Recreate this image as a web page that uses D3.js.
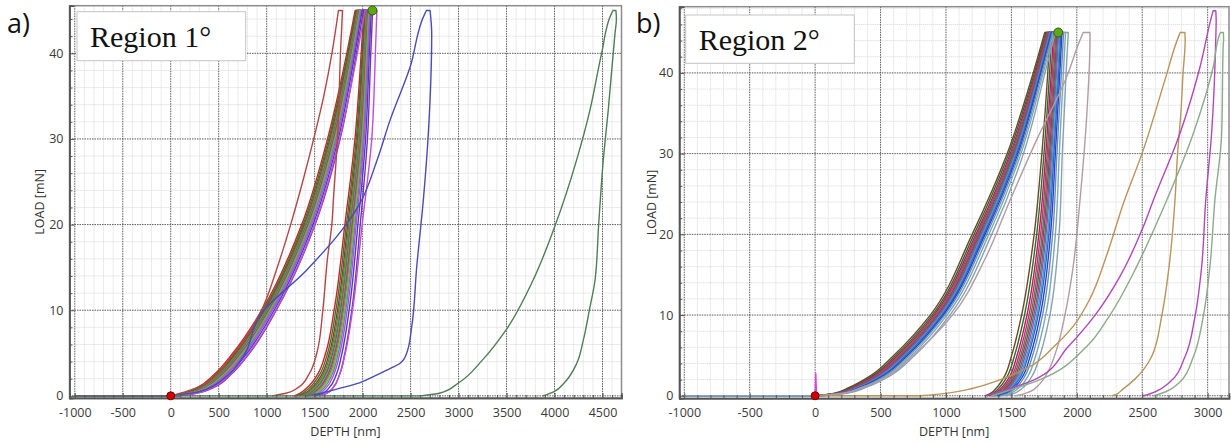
<!DOCTYPE html>
<html><head><meta charset="utf-8">
<script src="https://cdn.jsdelivr.net/npm/d3@7"></script>
<style>body{margin:0;background:#fff}svg{display:block}</style>
</head><body><svg id="c" width="1231" height="444"></svg>
<script>
// ---------- DATA ----------
const loadLevels = [0, 0.3, 1, 2.5, 5, 10, 20, 30, 40, 45];      // mN, loading branch
const unloadLevels = [45, 40, 30, 20, 10, 5, 2.5, 1, 0.3, 0];    // mN, unloading branch
const xTicksA = [-1000, -500, 0, 500, 1000, 1500, 2000, 2500, 3000, 3500, 4000, 4500];
const xTicksB = [-1000, -500, 0, 500, 1000, 1500, 2000, 2500, 3000];
const yTicks = [0, 10, 20, 30, 40];

// Panel a) main bundle: depth (nm) at each load level
const bundleA_load = [
  [0,130,280,452,648,950,1365,1634,1835,1922],
  [8,144,297,470,665,965,1379,1647,1845,1931],
  [15,157,312,485,681,978,1392,1659,1854,1938],
  [21,166,324,498,693,989,1401,1668,1861,1944],
  [26,175,334,508,704,998,1410,1676,1867,1950],
  [30,183,344,518,713,1006,1417,1684,1872,1954],
  [34,190,353,528,723,1014,1425,1691,1878,1959],
  [38,197,362,536,732,1022,1432,1697,1883,1963],
  [43,205,371,546,741,1030,1440,1705,1888,1968],
  [47,213,380,556,751,1039,1448,1712,1894,1973],
  [53,222,392,568,763,1049,1457,1721,1901,1979],
  [59,234,406,582,777,1061,1469,1732,1909,1986],
  [68,249,425,602,796,1078,1484,1746,1920,1995],
  [80,270,450,628,822,1100,1505,1766,1935,2008],
  [75,262,440,620,815,1095,1500,1760,1945,2025]
];
const bundleA_unload = [
  [2012,1985,1920,1815,1703,1615,1530,1425,1345,1290],
  [2021,1995,1933,1831,1721,1635,1553,1452,1373,1316],
  [2029,2004,1945,1845,1738,1653,1574,1476,1398,1339],
  [2036,2011,1954,1857,1751,1667,1590,1495,1418,1358],
  [2041,2017,1962,1866,1762,1679,1604,1511,1435,1373],
  [2047,2023,1969,1875,1772,1690,1616,1526,1450,1388],
  [2052,2028,1976,1884,1782,1701,1629,1541,1465,1402],
  [2056,2033,1982,1892,1791,1711,1640,1555,1479,1415],
  [2061,2039,1990,1901,1801,1722,1653,1569,1495,1429],
  [2066,2044,1997,1909,1812,1733,1666,1584,1510,1443],
  [2073,2051,2006,1921,1824,1747,1682,1603,1530,1462],
  [2080,2059,2016,1933,1839,1763,1700,1625,1552,1482],
  [2090,2070,2031,1951,1859,1785,1726,1655,1583,1511],
  [2104,2085,2050,1975,1887,1815,1760,1695,1625,1550],
  [2148,2133,2095,1995,1895,1820,1760,1695,1625,1555]
];
const bundleA_colors = ['#d62020','#2e7d32','#a03030','#3a8a3a','#9a8a20','#2a7a6a','#8a8a8a','#c03070',
  '#4a9a4a','#b0a030','#30a0b0','#d040d0','#4040d0','#7a30b0','#c050d0'];

// Panel a) outliers: [depth nm, load mN]
const redA_load = [[0,0],[280,1],[660,5],[945,10],[1110,15],[1250,20],[1375,25],[1490,30],[1595,35],[1680,40],[1748,45]];
const redA_unload = [[1790,45],[1782,43],[1773,41],[1738,30],[1696,23],[1679,20],[1633,16],[1585,10],[1523,5],[1440,2.5],[1331,1],[1200,0.3],[1060,0]];
const blueA_load = [[0,0],[300,0.5],[550,2],[750,4.5],[932,9.45],[1418,14.7],[1974,22.5],[2150,27.5],[2286,32.2],[2495,38.4],[2651,44.7],[2665,45]];
const blueA_unload = [[2703,45],[2720,42.3],[2685,30.7],[2633,22.9],[2564,15.1],[2512,8.1],[2460,5.0],[2390,3.8],[2252,3.0],[2112,2.25],[1974,1.55],[1766,0.9],[1523,0.2],[1418,0]];
const greenA_load = [[2600,0],[2800,0.3],[2998,1.5],[3250,4.2],[3495,7.7],[3776,13.5],[4010,20],[4229,27.5],[4370,33.4],[4491,40],[4595,44.7],[4610,45]];
const greenA_unload = [[4640,45],[4645,44],[4630,42.3],[4560,33.4],[4508,27.5],[4460,20],[4422,13.5],[4363,10],[4300,6.5],[4232,3.8],[4100,1.5],[3996,0.5],[3880,0]];

// Panel b) main bundle
const bundleB_load = [
  [0,140,256,425,600,880,1200,1468,1667,1755],
  [6,150,269,440,616,895,1215,1480,1676,1763],
  [11,159,280,454,630,908,1229,1492,1684,1770],
  [16,166,289,464,642,919,1239,1500,1690,1776],
  [19,172,297,473,651,928,1248,1508,1696,1781],
  [23,178,304,481,660,936,1256,1515,1701,1785],
  [26,183,311,490,669,945,1265,1521,1706,1789],
  [29,188,317,497,677,952,1272,1528,1710,1793],
  [32,194,324,505,686,960,1280,1534,1715,1798],
  [35,199,332,514,694,969,1289,1541,1720,1802],
  [40,206,340,524,706,979,1299,1550,1726,1808],
  [44,214,351,536,718,991,1311,1560,1734,1814],
  [51,225,365,553,736,1008,1328,1573,1744,1823],
  [60,240,384,575,760,1030,1350,1592,1757,1835]
];
const bundleB_unload = [
  [1795,1778,1733,1674,1578,1502,1450,1387,1340,1300],
  [1809,1792,1749,1693,1600,1524,1471,1407,1358,1316],
  [1822,1805,1763,1710,1619,1543,1490,1425,1374,1330],
  [1831,1814,1774,1723,1634,1558,1505,1440,1387,1342],
  [1840,1823,1783,1735,1647,1571,1517,1452,1398,1351],
  [1848,1831,1792,1745,1659,1583,1529,1463,1408,1360],
  [1855,1838,1800,1756,1671,1595,1540,1474,1417,1369],
  [1862,1845,1808,1765,1682,1606,1551,1484,1426,1377],
  [1870,1853,1816,1776,1694,1618,1562,1495,1436,1386],
  [1878,1861,1825,1786,1705,1629,1574,1506,1446,1394],
  [1887,1870,1836,1799,1721,1645,1589,1520,1459,1406],
  [1899,1882,1848,1815,1738,1662,1605,1536,1473,1418],
  [1914,1897,1866,1836,1762,1686,1629,1559,1493,1436],
  [1935,1918,1889,1864,1794,1718,1660,1589,1520,1460]
];
const bundleB_colors = ['#6a4a2a','#2e6b2e','#b02050','#c82a8a','#3a8a3a','#d02060','#208a70','#b040c0',
  '#20b0c0','#3a60c0','#2040e0','#6a90a8','#7aa8b8','#8aa0b0'];

// Panel b) outliers
const pinkB_load = [[0,0],[200,0.3],[350,1],[560,2.5],[750,5],[1050,10],[1300,17],[1489,24.2],[1693,31.7],[1922,39.5],[2023,44],[2049,45]];
const pinkB_unload = [[2100,45],[2101,44.5],[2075,34.5],[2024,24.2],[1972,16],[1909,10],[1845,5.7],[1780,3],[1718,1.5],[1640,0.5],[1565,0.1],[1530,0]];
const tanB_load = [[800,0],[1000,0.3],[1200,0.9],[1400,1.9],[1640,3.6],[1820,6.0],[1972,8.6],[2100,12],[2230,17.5],[2355,23.8],[2507,30.4],[2673,39.1],[2775,44.4],[2790,45]];
const tanB_unload = [[2826,45],[2828,44],[2812,40],[2795,35],[2770,30],[2750,24.2],[2705,16],[2650,10],[2570,4.8],[2440,2],[2350,0.8],[2290,0.1],[2270,0]];
const magentaB_load = [[1300,0],[1450,0.7],[1700,2.2],[1930,6],[2140,10],[2330,14.8],[2507,20.9],[2584,24.2],[2788,32.5],[2941,40.7],[3030,47],[3042,47.7]];
const magentaB_unload = [[3062,47.7],[3065,46.5],[3063,44.9],[3030,32.5],[2985,24.2],[2954,16],[2903,9.8],[2826,4.8],[2711,1.7],[2600,0.5],[2533,0.1],[2510,0]];
const greyGreenB_load = [[1350,0],[1565,1.1],[1718,2],[2075,6.1],[2253,10],[2457,16],[2600,21],[2686,24.2],[2890,32.5],[3042,40.7],[3094,44.9],[3100,45]];
const greyGreenB_unload = [[3120,45],[3122,44],[3119,43.6],[3107,32.5],[3055,24.2],[3017,16],[2966,9.8],[2890,4.8],[2788,1.7],[2680,0.5],[2610,0.1],[2590,0]];
const spikeB = [[-20,0],[0,0.2],[5,2.8],[10,0.3],[20,0]];

// markers [depth, load]
const startMarkA = [0, 0], maxMarkA = [2102, 45];
const startMarkB = [0, 0], maxMarkB = [1858, 45];

// ---------- DRAW ----------
const svg = d3.select('#c');
const FONT = "'Open Sans','Noto Sans','DejaVu Sans',sans-serif";

function bundle(loads, unloads, colors, approach) {
  return loads.map((ld, i) => ({
    color: colors[i], approach,
    load: loadLevels.map((L, j) => [ld[j], L]),
    unload: unloadLevels.map((L, j) => [unloads[i][j], L])
  }));
}

function drawPanel(cfg) {
  const x = d3.scaleLinear().domain(cfg.xDomain).range([cfg.left, cfg.right]);
  const y = d3.scaleLinear().domain(cfg.yDomain).range([cfg.bottom, cfg.top]);
  const g = svg.append('g');
  const clipId = 'clip' + cfg.id;
  svg.append('clipPath').attr('id', clipId).append('rect')
    .attr('x', cfg.left).attr('y', cfg.top).attr('width', cfg.right - cfg.left).attr('height', cfg.bottom - cfg.top);

  const xMinor = d3.range(-1000, cfg.xDomain[1], 100).filter(v => v % 500 !== 0);
  const yMinor = d3.range(0, cfg.yDomain[1], 2).filter(v => v % 10 !== 0);

  const grid = g.append('g').attr('clip-path', `url(#${clipId})`);
  grid.selectAll('.vmn').data(xMinor).join('line')
    .attr('x1', d => x(d)).attr('x2', d => x(d)).attr('y1', cfg.top).attr('y2', cfg.bottom)
    .attr('stroke', '#d6d6d6').attr('stroke-width', 1).attr('stroke-dasharray', '1,1');
  grid.selectAll('.hmn').data(yMinor).join('line')
    .attr('y1', d => y(d)).attr('y2', d => y(d)).attr('x1', cfg.left).attr('x2', cfg.right)
    .attr('stroke', '#d6d6d6').attr('stroke-width', 1).attr('stroke-dasharray', '1,1');
  grid.selectAll('.vmj').data(cfg.xTicks).join('line')
    .attr('x1', d => x(d)).attr('x2', d => x(d)).attr('y1', cfg.top).attr('y2', cfg.bottom)
    .attr('stroke', '#5a5a5a').attr('stroke-width', 1).attr('stroke-dasharray', '1.5,1');
  grid.selectAll('.hmj').data(yTicks).join('line')
    .attr('y1', d => y(d)).attr('y2', d => y(d)).attr('x1', cfg.left).attr('x2', cfg.right)
    .attr('stroke', '#5a5a5a').attr('stroke-width', 1).attr('stroke-dasharray', '1.5,1');

  // curves: approach (straight) + loading (monotone in load) + hold (straight) + unloading (monotone in load)
  const straight = d3.line().x(d => x(d[0])).y(d => y(d[1]));
  const smooth = d3.line().x(d => x(d[0])).y(d => y(d[1])).curve(d3.curveMonotoneY);
  const curves = g.append('g').attr('clip-path', `url(#${clipId})`);
  cfg.curves.forEach(c => {
    let d = '';
    if (c.pts) {
      d = straight(c.pts);
    } else {
      const first = c.load[0], lastL = c.load[c.load.length - 1], firstU = c.unload[0];
      if (c.approach !== undefined) d += straight([[c.approach, 0], first]);
      d += smooth(c.load);
      d += straight([lastL, firstU]);
      d += smooth(c.unload.slice().reverse());
    }
    curves.append('path').attr('d', d).attr('fill', 'none')
      .attr('stroke', c.color).attr('stroke-width', c.width || 1.4)
      .attr('stroke-linejoin', 'round').attr('stroke-linecap', 'round');
  });

  // frame
  g.append('rect').attr('x', cfg.left).attr('y', cfg.top).attr('width', cfg.right - cfg.left).attr('height', cfg.bottom - cfg.top)
    .attr('fill', 'none').attr('stroke', '#8c8c8c').attr('stroke-width', 1.5);

  // axes
  const axL = g.append('g').attr('transform', `translate(${cfg.left},0)`);
  axL.call(d3.axisLeft(y).tickValues(yMinor).tickSize(-3).tickFormat(''));
  const axL2 = g.append('g').attr('transform', `translate(${cfg.left},0)`);
  axL2.call(d3.axisLeft(y).tickValues(yTicks).tickSize(-5).tickPadding(6).tickFormat(d => String(d)));
  const axB = g.append('g').attr('transform', `translate(0,${cfg.bottom})`);
  axB.call(d3.axisBottom(x).tickValues(xMinor).tickSize(-3).tickFormat(''));
  const axB2 = g.append('g').attr('transform', `translate(0,${cfg.bottom})`);
  axB2.call(d3.axisBottom(x).tickValues(cfg.xTicks).tickSize(-5).tickPadding(10).tickFormat(d => String(d)));
  [axL, axL2, axB, axB2].forEach(a => {
    a.select('.domain').attr('stroke', '#555').attr('stroke-width', 1.5);
    a.selectAll('.tick line').attr('stroke', '#555');
    a.selectAll('text').attr('font-family', FONT).attr('font-size', 12.5).attr('fill', '#3a3a3a');
  });

  // axis titles
  g.append('text').attr('x', (cfg.left + cfg.right) / 2).attr('y', 436).attr('text-anchor', 'middle')
    .attr('font-family', FONT).attr('font-size', 12.5).attr('fill', '#333').text('DEPTH [nm]');
  g.append('text').attr('transform', `translate(${cfg.ytitleX},${(cfg.top + cfg.bottom) / 2}) rotate(-90)`)
    .attr('text-anchor', 'middle').attr('dy', '0.35em')
    .attr('font-family', FONT).attr('font-size', 12.5).attr('fill', '#333').text('LOAD [mN]');

  // markers
  g.append('circle').attr('cx', x(cfg.startMark[0])).attr('cy', y(cfg.startMark[1])).attr('r', 4)
    .attr('fill', '#d00000').attr('stroke', '#7a0000').attr('stroke-width', 1);
  g.append('circle').attr('cx', x(cfg.maxMark[0])).attr('cy', y(cfg.maxMark[1])).attr('r', 4.5)
    .attr('fill', '#5ea814').attr('stroke', '#2f5a08').attr('stroke-width', 1);

  // legend box
  g.append('rect').attr('x', cfg.box[0]).attr('y', cfg.box[1]).attr('width', cfg.box[2]).attr('height', cfg.box[3])
    .attr('fill', '#fff').attr('stroke', '#c4c4c4').attr('stroke-width', 1);
  g.append('text').attr('x', cfg.box[0] + 13).attr('y', cfg.box[1] + 35)
    .attr('font-family', "'Liberation Serif','Times New Roman',serif").attr('font-size', 30).attr('fill', '#111')
    .text(cfg.region);

  // panel letter
  svg.append('text').attr('x', cfg.letterX).attr('y', 33).attr('font-family', FONT).attr('font-size', 27)
    .attr('fill', '#111').text(cfg.letter);
}

const curvesA = bundle(bundleA_load, bundleA_unload, bundleA_colors, -1000)
  .concat([
    { color: '#b04848', approach: -1000, load: redA_load, unload: redA_unload },
    { color: '#4a4ab8', approach: -1000, load: blueA_load, unload: blueA_unload },
    { color: '#4f7d55', approach: -1000, load: greenA_load, unload: greenA_unload }]);
const curvesB = bundle(bundleB_load, bundleB_unload, bundleB_colors, -1000)
  .concat([
    { color: '#b39ca4', load: pinkB_load, unload: pinkB_unload },
    { color: '#b8955a', approach: 0, load: tanB_load, unload: tanB_unload },
    { color: '#b048b8', load: magentaB_load, unload: magentaB_unload },
    { color: '#8caa8c', load: greyGreenB_load, unload: greyGreenB_unload },
    { color: '#e040e0', pts: spikeB }]);

drawPanel({ id: 'a', left: 69.5, right: 621.5, top: 5.7, bottom: 398, xDomain: [-1055, 4698], yDomain: [-0.25, 45.56],
  xTicks: xTicksA, curves: curvesA, startMark: startMarkA, maxMark: maxMarkA, ytitleX: 40,
  box: [77, 11.7, 168.7, 49], region: 'Region 1°', letter: 'a)', letterX: 7 });
drawPanel({ id: 'b', left: 679.3, right: 1229, top: 6.7, bottom: 398.2, xDomain: [-1038, 3163], yDomain: [-0.3, 48.2],
  xTicks: xTicksB, curves: curvesB, startMark: startMarkB, maxMark: maxMarkB, ytitleX: 652,
  box: [685.7, 15, 168.6, 48.3], region: 'Region 2°', letter: 'b)', letterX: 636 });
</script></body></html>
